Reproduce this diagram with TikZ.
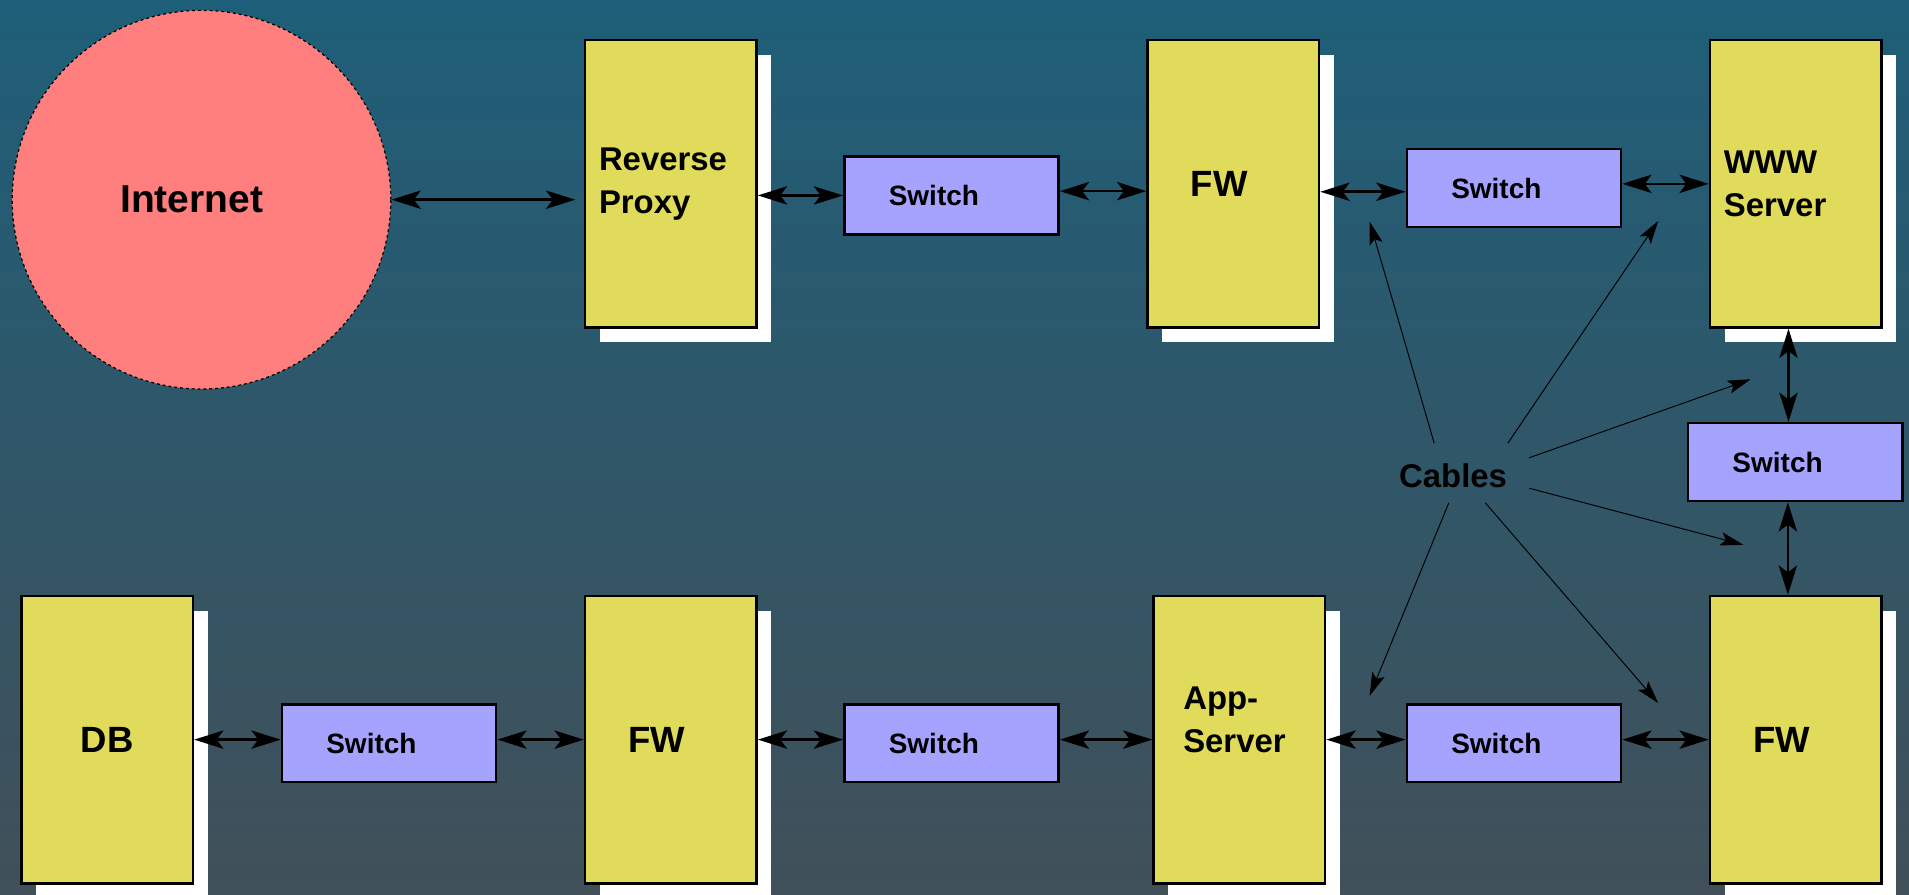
\documentclass[tikz,border=0pt]{standalone}
\usepackage{fontspec}
\setmainfont{Liberation Sans}
\usetikzlibrary{arrows.meta,shadows}
\definecolor{bgtop}{RGB}{30,94,120}
\definecolor{bgbot}{RGB}{65,80,89}
\definecolor{inetfill}{RGB}{255,127,127}
\definecolor{boxfill}{RGB}{224,219,90}
\definecolor{swfill}{RGB}{166,163,254}
\begin{document}
\begin{tikzpicture}[x=0.5pt,y=-0.5pt,
  ybox/.style={draw=black, line width=1pt, fill=boxfill,
    minimum width=70.5pt, minimum height=118pt, inner sep=0pt, align=left,
    general shadow={fill=white, shadow xshift=6pt, shadow yshift=-6pt}},
  big/.style={font=\bfseries\fontsize{15}{18}\selectfont},
  two/.style={font=\bfseries\fontsize{13.5}{17.5}\selectfont},
  swbox/.style={draw=black, line width=1pt, fill=swfill,
    minimum width=88pt, minimum height=32pt, inner sep=0pt,
    text width=51.5pt, align=left, font=\bfseries\fontsize{11.5}{14}\selectfont},
  conn/.style={line width=1.1pt, {Stealth[length=12pt,width=7.5pt,inset=2.8pt]}-{Stealth[length=12pt,width=7.5pt,inset=2.8pt]}},
  cable/.style={line width=0.4pt, -{Stealth[length=9.5pt,width=5.5pt,inset=2pt]}},
]
\clip (0,0) rectangle (1568,735);
\shade[top color=bgtop, bottom color=bgbot] (0,0) rectangle (1568,735);

% nodes
\node[circle, draw=black, line width=0.5pt, dash pattern=on 1.2pt off 1.2pt,
  fill=inetfill, minimum size=155.5pt, inner sep=0pt,
  font=\bfseries\fontsize{16}{19}\selectfont] (inet) at (165.5,164) {Internet\hspace*{8pt}};
\node[ybox, two, text width=59pt] (rp) at (551,151) {Reverse\\Proxy};
\node[swbox] (sw1) at (781.5,160.5) {Switch};
\node[ybox, big, text width=35pt] (fw1) at (1013,151) {FW};
\node[swbox] (sw2) at (1243.5,154.5) {Switch};
\node[ybox, two, text width=59pt] (www) at (1475,151) {WWW\\Server};
\node[swbox] (sw3) at (1474.5,379.5) {Switch};
\node[ybox, big, text width=35pt] (fw2) at (1475,607.5) {FW};
\node[swbox] (sw4) at (1243.5,610.5) {Switch};
\node[ybox] (app) at (1018,607.5) {};
\node[two, align=left, inner sep=0pt, anchor=west] (appt) at ([xshift=12.5pt,yshift=8pt]app.west) {App-\\Server};
\node[swbox] (sw5) at (781.5,610.5) {Switch};
\node[ybox, big, text width=35pt] (fw3) at (551,607.5) {FW};
\node[swbox] (sw6) at (319.5,610.5) {Switch};
\node[ybox, big, text width=59pt, align=center] (db) at (88,607.5) {DB};
\node[two, inner sep=0pt] (cables) at (1193.5,391) {Cables};

% connectors
\draw[conn, shorten >=3.5pt] (inet.east) -- (inet.east -| rp.west);
\draw[conn] (sw1.west) -- (sw1.west -| rp.east);
\draw[conn] ([yshift=1.75pt]sw1.east) -- ([yshift=1.75pt]sw1.east -| fw1.west);
\draw[conn] ([yshift=-1.5pt]sw2.west) -- ([yshift=-1.5pt]sw2.west -| fw1.east);
\draw[conn] ([yshift=1.75pt]sw2.east) -- ([yshift=1.75pt]sw2.east -| www.west);
\draw[conn] ([xshift=-3pt]www.south) -- ([xshift=-3pt]www.south |- sw3.north);
\draw[conn] ([xshift=-3pt]sw3.south) -- ([xshift=-3pt]sw3.south |- fw2.north);
\draw[conn] (fw2.west) -- (fw2.west -| sw4.east);
\draw[conn] (app.east) -- (app.east -| sw4.west);
\draw[conn] (app.west) -- (app.west -| sw5.east);
\draw[conn] (fw3.east) -- (fw3.east -| sw5.west);
\draw[conn] (fw3.west) -- (fw3.west -| sw6.east);
\draw[conn] (db.east) -- (db.east -| sw6.west);

% cable pointers
\coordinate (c1) at (1178,364);   \coordinate (t1) at (1125,182);
\coordinate (c2) at (1238.5,364); \coordinate (t2) at (1362,181.5);
\coordinate (c3) at (1256,376);   \coordinate (t3) at (1438,311.5);
\coordinate (c4) at (1256,401);   \coordinate (t4) at (1432,447.5);
\coordinate (c5) at (1190,413);   \coordinate (t5) at (1125,571.5);
\coordinate (c6) at (1220,413);   \coordinate (t6) at (1362,577.5);
\foreach \i in {1,...,6} { \draw[cable] (c\i) -- (t\i); }
\end{tikzpicture}
\end{document}
